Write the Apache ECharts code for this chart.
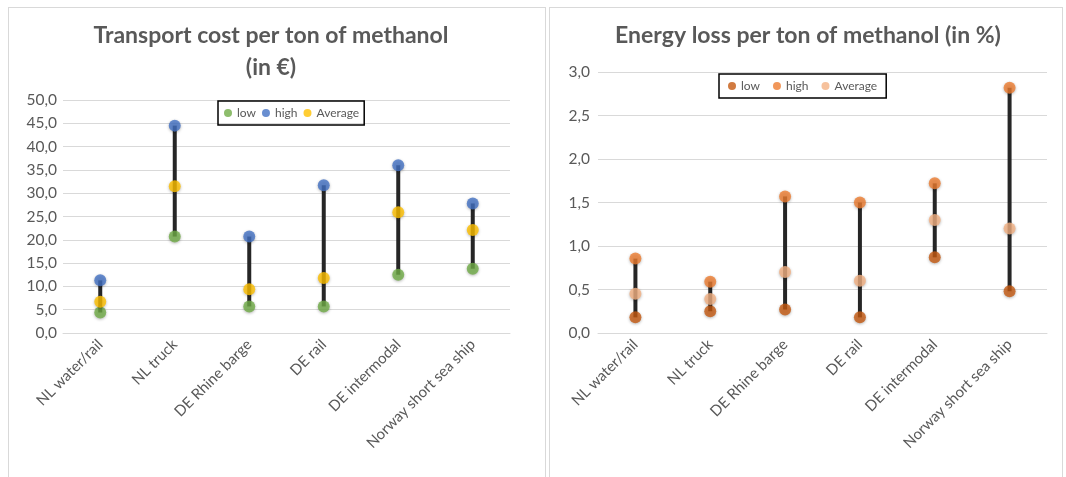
<!DOCTYPE html>
<html>
<head>
<meta charset="utf-8">
<script src="https://cdn.jsdelivr.net/npm/echarts@6/dist/echarts.min.js"></script>
<style>
html,body{margin:0;padding:0;background:#fff;width:1066px;height:477px;overflow:hidden;}
.panel{position:absolute;border:1px solid #d9d9d9;box-sizing:border-box;background:#fff;}
</style>
</head>
<body>
<div id="c1" class="panel" style="left:8px;top:7px;width:538px;height:475px;"></div>
<div id="c2" class="panel" style="left:549px;top:7px;width:514px;height:475px;"></div>
<script>
const categories = ['NL water/rail','NL truck','DE Rhine barge','DE rail','DE intermodal','Norway short sea ship'];

const costLow  = [4.4, 20.7, 5.7, 5.7, 12.5, 13.8];
const costHigh = [11.3, 44.5, 20.7, 31.7, 36.0, 27.8];
const costAvg  = [6.7, 31.5, 9.4, 11.8, 25.9, 22.1];

const lossLow  = [0.18, 0.25, 0.27, 0.18, 0.87, 0.48];
const lossHigh = [0.855, 0.59, 1.57, 1.50, 1.72, 2.82];
const lossAvg  = [0.45, 0.39, 0.70, 0.60, 1.30, 1.20];

const costTicks = {min: 0, max: 50, interval: 5};
const lossTicks = {min: 0, max: 3, interval: 0.5};

const FONT = 'Lato, "Open Sans", sans-serif';
const GREY = '#595959';

function fmt(v){ return v.toFixed(1).replace('.', ','); }

function build(cfg){
  const rangeData = categories.map((c,i)=>[i, cfg.low[i], cfg.high[i]]);
  const mk = (name, data, color) => ({
    name, type:'scatter', data, symbol:'circle', symbolSize: 12,
    itemStyle:{color, shadowBlur:3, shadowColor:'rgba(0,0,0,0.35)', shadowOffsetY:1},
    z: 3
  });
  return {
    animation:false,
    textStyle:{fontFamily:FONT},
    graphic: cfg.titles.map(t => ({
      type:'text', x: t.x, y: t.y,
      style:{text:t.text, font:'bold 23px ' + FONT, fill:GREY, align:'center', verticalAlign:'middle'}
    })),
    legend:{
      left: cfg.legend.left, top: cfg.legend.top,
      icon:'circle', itemWidth:8, itemHeight:8, itemGap: cfg.legend.gap,
      borderColor:'#000', borderWidth:1.5, borderRadius:0,
      padding: cfg.legend.padding,
      textStyle:{color:GREY, fontSize:12, fontFamily:FONT},
      data:['low','high','Average']
    },
    grid: cfg.grid,
    xAxis:{
      type:'category', data:categories, boundaryGap:true,
      axisLine:{show:true, lineStyle:{color:'#d9d9d9'}},
      axisTick:{show:false},
      axisLabel:{rotate:45, color:GREY, fontSize:15, fontFamily:FONT, interval:0, margin:9}
    },
    yAxis:{
      type:'value', min:cfg.ticks.min, max:cfg.ticks.max, interval:cfg.ticks.interval,
      axisLine:{show:false}, axisTick:{show:false},
      splitLine:{lineStyle:{color:'#d9d9d9'}},
      axisLabel:{color:GREY, fontSize:15.5, fontFamily:FONT, formatter:fmt, margin:cfg.labelMargin}
    },
    series:[
      {
        type:'custom', name:'range', data:rangeData, z:2, silent:true,
        renderItem:(params, api)=>{
          const p1 = api.coord([api.value(0), api.value(1)]);
          const p2 = api.coord([api.value(0), api.value(2)]);
          return {type:'line', shape:{x1:p1[0],y1:p1[1],x2:p2[0],y2:p2[1]},
                  style:{stroke:'#262626', lineWidth:4}};
        }
      },
      mk('low', cfg.low, cfg.colors[0]),
      mk('high', cfg.high, cfg.colors[1]),
      mk('Average', cfg.avg, cfg.colors[2])
    ]
  };
}

const ch1 = echarts.init(document.getElementById('c1'), null, {renderer:'canvas'});
ch1.setOption(build({
  low:costLow, high:costHigh, avg:costAvg, ticks:costTicks,
  colors:['#70AD47','#4472C4','#FFC000'],
  titles:[{text:'Transport cost per ton of methanol', x:262, y:28},{text:'(in €)', x:262, y:60}],
  legend:{left:209, top:93, gap:6, padding:[6,5,6,6]},
  grid:{left:54, right:35, top:92, bottom:148, containLabel:false},
  labelMargin:6
}));

const ch2 = echarts.init(document.getElementById('c2'), null, {renderer:'canvas'});
ch2.setOption(build({
  low:lossLow, high:lossHigh, avg:lossAvg, ticks:lossTicks,
  colors:['#C55A11','#ED7D31','#F4B183'],
  titles:[{text:'Energy loss per ton of methanol (in %)', x:258, y:28}],
  legend:{left:169, top:66, gap:13, padding:[6,9,6,9]},
  grid:{left:48, right:15, top:64, bottom:148, containLabel:false},
  labelMargin:8
}));
</script>
</body>
</html>
